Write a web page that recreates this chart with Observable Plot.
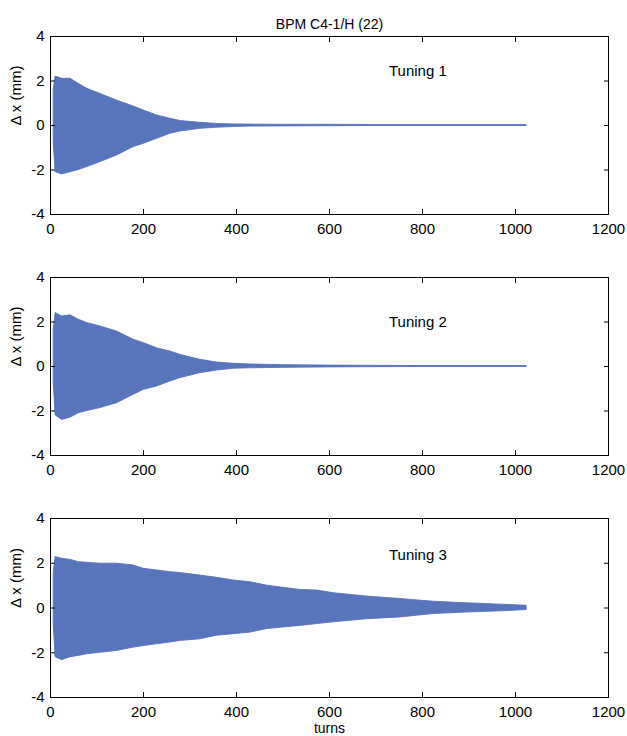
<!DOCTYPE html>
<html><head><meta charset="utf-8">
<script src="https://cdn.jsdelivr.net/npm/d3@7"></script>
<script src="https://cdn.jsdelivr.net/npm/@observablehq/plot@0.6"></script>
<style>
body{margin:0;background:#fff}
#wrap{position:relative;width:627px;height:736px;overflow:hidden}
.p{position:absolute;left:0}
</style>
</head><body><div id="wrap"></div>
<script>
// ---- data ----
const title = "BPM C4-1/H (22)";
const yLabel = "Δ x (mm)";
const xLabel = "turns";
const xTicks = [0, 200, 400, 600, 800, 1000, 1200];
const yTicks = [-4, -2, 0, 2, 4];

const turns12 = [7, 11, 25, 43, 61, 79, 107, 143, 179, 201, 229, 258, 280, 322, 358, 394, 430, 500, 600, 700, 800, 900, 1024];
const upper1 = [1.6, 2.2, 2.1, 2.1, 1.87, 1.65, 1.42, 1.12, 0.85, 0.67, 0.45, 0.3, 0.2, 0.12, 0.07, 0.05, 0.04, 0.03, 0.03, 0.02, 0.02, 0.02, 0.02];
const lower1 = [-0.8, -2.1, -2.2, -2.1, -2.0, -1.87, -1.65, -1.35, -0.97, -0.82, -0.6, -0.37, -0.27, -0.15, -0.1, -0.07, -0.05, -0.04, -0.03, -0.02, -0.02, -0.02, -0.02];
const upper2 = [1.7, 2.4, 2.25, 2.3, 2.1, 1.95, 1.8, 1.57, 1.2, 1.05, 0.82, 0.67, 0.52, 0.3, 0.18, 0.12, 0.09, 0.06, 0.04, 0.03, 0.02, 0.02, 0.02];
const lower2 = [-0.8, -2.2, -2.4, -2.3, -2.1, -2.0, -1.87, -1.65, -1.27, -1.05, -0.9, -0.67, -0.52, -0.3, -0.18, -0.1, -0.08, -0.06, -0.04, -0.03, -0.02, -0.02, -0.02];

const turns3 = [7, 11, 25, 43, 61, 79, 107, 143, 179, 201, 229, 258, 280, 322, 358, 394, 430, 466, 501, 537, 573, 609, 681, 753, 824, 896, 968, 1024];
const upper3 = [1.6, 2.28, 2.2, 2.15, 2.05, 2.02, 1.98, 1.98, 1.9, 1.75, 1.68, 1.6, 1.56, 1.45, 1.35, 1.23, 1.15, 1.0, 0.9, 0.81, 0.78, 0.66, 0.51, 0.4, 0.28, 0.21, 0.15, 0.1];
const lower3 = [-0.8, -2.2, -2.33, -2.2, -2.14, -2.07, -2.0, -1.92, -1.77, -1.7, -1.62, -1.54, -1.47, -1.4, -1.24, -1.17, -1.1, -0.94, -0.87, -0.8, -0.72, -0.64, -0.5, -0.42, -0.27, -0.2, -0.15, -0.09];

const tuningLabels = ["Tuning 1", "Tuning 2", "Tuning 3"];
const tuningX = [790, 790, 790];
const tuningY = [2.43, 2.0, 2.38];

// ---- drawing ----
const COLOR = "#5874bb";
const FONT = "'Liberation Sans', Arial, Helvetica, sans-serif";
const plain = d => String(d);

function panel(idx, turns, up, lo, top, height, marginBottom, extra) {
  const data = turns.map((t, i) => ({t, hi: up[i], lo: lo[i]}));
  const marks = [
    Plot.areaY(data, {x: "t", y1: "lo", y2: "hi", fill: COLOR, stroke: COLOR, strokeWidth: 0.9}),
    Plot.frame({stroke: "#000", strokeWidth: 1}),
    // labels
    Plot.axisX(xTicks, {anchor: "bottom", tickSize: 0, tickPadding: 9, fontSize: 15, label: null, tickFormat: plain}),
    Plot.axisY(yTicks, {anchor: "left", tickSize: 0, tickPadding: 6, fontSize: 15, label: null, tickFormat: plain}),
    // inward ticks
    Plot.axisX(xTicks, {anchor: "bottom", tickSize: 5, dy: -5, tickFormat: () => "", label: null, stroke: "#000"}),
    Plot.axisX(xTicks, {anchor: "top", tickSize: 5, dy: 5, tickFormat: () => "", label: null, stroke: "#000"}),
    Plot.axisY(yTicks, {anchor: "left", tickSize: 5, dx: 5, tickFormat: () => "", label: null, stroke: "#000"}),
    Plot.axisY(yTicks, {anchor: "right", tickSize: 5, dx: -5, tickFormat: () => "", label: null, stroke: "#000"}),
    Plot.text([yLabel], {frameAnchor: "left", dx: -34, rotate: -90, fontSize: 15, fill: "#000"}),
    Plot.text([tuningLabels[idx]], {x: () => tuningX[idx], y: () => tuningY[idx], fontSize: 15, fill: "#000"}),
    ...extra
  ];
  const svg = Plot.plot({
    width: 627, height, marginTop: 36, marginLeft: 50, marginRight: 19, marginBottom,
    style: {fontFamily: FONT, fontSize: "15px", color: "#000", background: "transparent", overflow: "visible"},
    x: {domain: [0, 1200]},
    y: {domain: [-4, 4]},
    marks
  });
  svg.classList.add("p");
  svg.style.top = top + "px";
  document.getElementById("wrap").appendChild(svg);
}

panel(0, turns12, upper1, lower1, 0, 240, 26,
  [Plot.text([title], {frameAnchor: "top", dy: -17, fontSize: 14, fill: "#000"})]);
panel(1, turns12, upper2, lower2, 241, 240, 26, []);
panel(2, turns3, upper3, lower3, 482, 254, 39,
  [Plot.text([xLabel], {frameAnchor: "bottom", dy: 35, fontSize: 14, fill: "#000"})]);
</script>
</body></html>
